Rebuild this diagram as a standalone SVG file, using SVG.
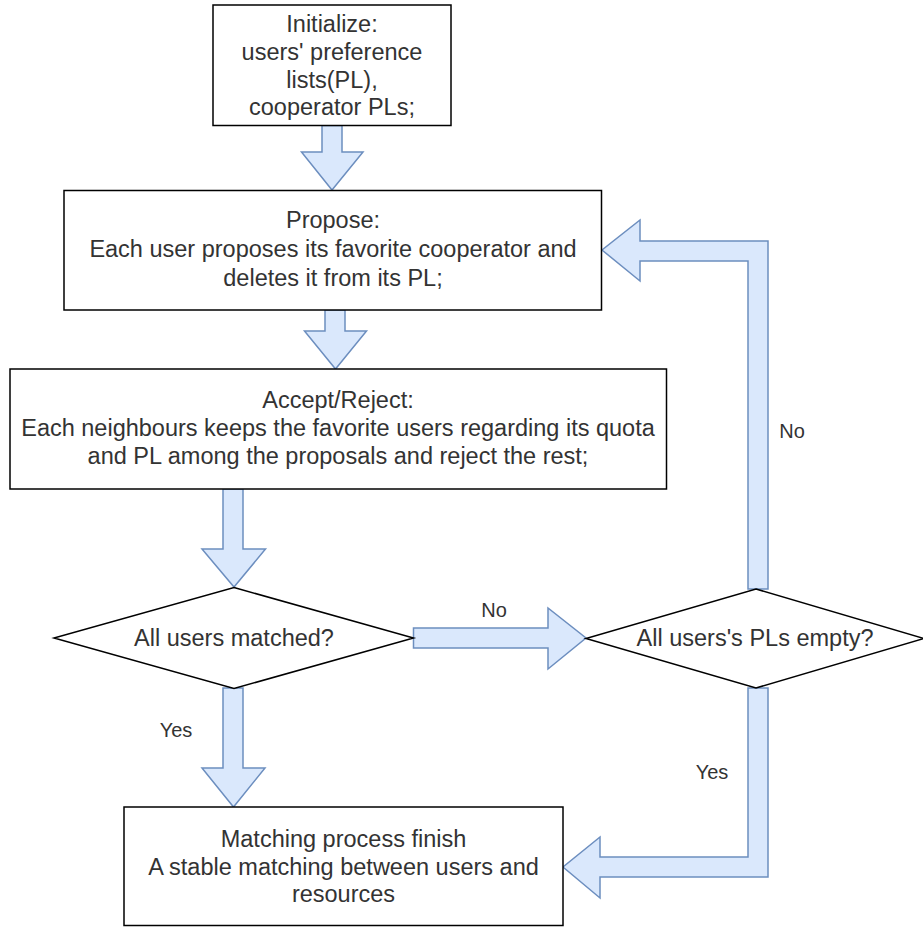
<svg xmlns="http://www.w3.org/2000/svg" width="923" height="927" viewBox="0 0 923 927">
<style>
.box{fill:#ffffff;stroke:#000000;stroke-width:1.5}
.arr{fill:#dae8fc;stroke:#6c8ebf;stroke-width:1.5;stroke-linejoin:miter}
.t{font-family:"Liberation Sans",Arial,sans-serif;font-size:23.5px;fill:#333333;text-anchor:middle}
.lbl{font-family:"Liberation Sans",Arial,sans-serif;font-size:20px;fill:#333333;text-anchor:middle}
</style>
<rect width="923" height="927" fill="#ffffff"/>
<g id="connectors">
  <polygon class="arr" points="322,125.5 342,125.5 342,152 363,152 332,190 301.5,152 322,152"/>
  <polygon class="arr" points="325,310 345,310 345,331 366.5,331 335.5,369 304.5,331 325,331"/>
  <polygon class="arr" points="223,489 243,489 243,549 265.5,549 234,587 202,549 223,549"/>
  <polygon class="arr" points="413.5,628 548,628 548,608 586,638 548,669 548,648 413.5,648"/>
  <polygon class="arr" points="748,589 748,261 640,261 640,281 602,250 640,220 640,241 768,241 768,589"/>
  <polygon class="arr" points="223,688 243,688 243,768 265,768 233.5,807 202,768 223,768"/>
  <polygon class="arr" points="748,688 748,857 600,857 600,837 563,867 600,898 600,877 768,877 768,688"/>
  <text class="lbl" x="494" y="617">No</text>
  <text class="lbl" x="792" y="438">No</text>
  <text class="lbl" x="176" y="737">Yes</text>
  <text class="lbl" x="712" y="779">Yes</text>
</g>
<g id="init">
  <rect class="box" x="213" y="5" width="238" height="120.5"/>
  <text class="t" x="332" y="32">Initialize:</text>
  <text class="t" x="332" y="60">users' preference</text>
  <text class="t" x="332" y="88">lists(PL),</text>
  <text class="t" x="332" y="115">cooperator PLs;</text>
</g>
<g id="propose">
  <rect class="box" x="64" y="190.5" width="537.5" height="119.5"/>
  <text class="t" x="333" y="228">Propose:</text>
  <text class="t" x="333" y="257">Each user proposes its favorite cooperator and</text>
  <text class="t" x="333" y="286">deletes it from its PL;</text>
</g>
<g id="accept">
  <rect class="box" x="10" y="369" width="656.5" height="120"/>
  <text class="t" x="338" y="408">Accept/Reject:</text>
  <text class="t" x="338" y="436">Each neighbours keeps the favorite users regarding its quota</text>
  <text class="t" x="338" y="464">and PL among the proposals and reject the rest;</text>
</g>
<g id="matched">
  <polygon class="box" points="234,587.5 413.5,638 234,688.5 54,638"/>
  <text class="t" x="234" y="646">All users matched?</text>
</g>
<g id="empty">
  <polygon class="box" points="756,589 924,638.5 756,688 586,638.5"/>
  <text class="t" x="755" y="646">All users's PLs empty?</text>
</g>
<g id="finish">
  <rect class="box" x="124" y="807" width="439" height="118.5"/>
  <text class="t" x="343.5" y="847">Matching process finish</text>
  <text class="t" x="343.5" y="875">A stable matching between users and</text>
  <text class="t" x="343.5" y="902">resources</text>
</g>
</svg>
